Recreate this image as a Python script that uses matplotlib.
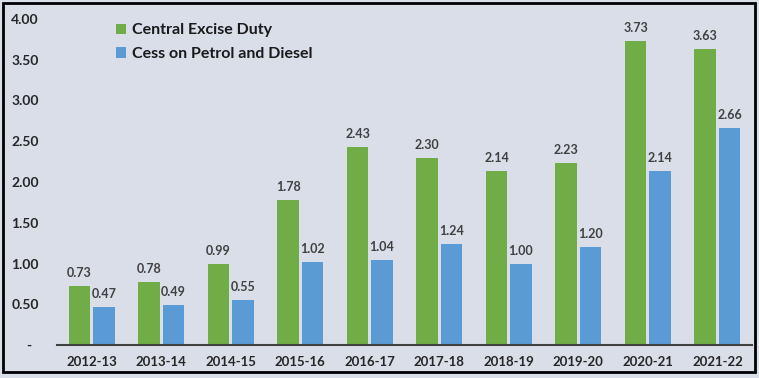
import matplotlib
matplotlib.use("Agg")
import matplotlib.pyplot as plt
import numpy as np
from matplotlib.patches import Rectangle

years = ["2012-13", "2013-14", "2014-15", "2015-16", "2016-17",
         "2017-18", "2018-19", "2019-20", "2020-21", "2021-22"]
central_excise = [0.73, 0.78, 0.99, 1.78, 2.43, 2.30, 2.14, 2.23, 3.73, 3.63]
cess = [0.47, 0.49, 0.55, 1.02, 1.04, 1.24, 1.00, 1.20, 2.14, 2.66]
yticks = [0, 0.5, 1.0, 1.5, 2.0, 2.5, 3.0, 3.5, 4.0]
ytick_labels = ["-  ", "0.50", "1.00", "1.50", "2.00", "2.50", "3.00", "3.50", "4.00"]

plt.rcParams['font.family'] = ['Lato', 'DejaVu Sans']

bg = "#d9dee8"
fig = plt.figure(figsize=(7.59, 3.78), dpi=100, facecolor=bg)
fig.patches.append(Rectangle((0.004, 0.016), 0.991, 0.976, transform=fig.transFigure,
                             fill=False, edgecolor="black", linewidth=2))
ax = fig.add_axes([0.075, 0.087, 0.916, 0.863], facecolor=bg)

x = np.arange(len(years))
w = 0.31
off = 0.175
green = "#70ad47"
blue = "#5b9bd5"
b1 = ax.bar(x - off, central_excise, w, color=green, label="Central Excise Duty")
b2 = ax.bar(x + off, cess, w, color=blue, label="Cess on Petrol and Diesel")

for bars, vals in ((b1, central_excise), (b2, cess)):
    for r, v in zip(bars, vals):
        ax.annotate(f"{v:.2f}", (r.get_x() + r.get_width() / 2, v),
                    xytext=(0, 5), textcoords="offset points",
                    ha="center", va="bottom", fontsize=9, fontweight="bold",
                    color="#404040")

ax.set_xlim(-0.5, len(years) - 0.5)
ax.set_ylim(0, 4.0)
ax.set_yticks(yticks)
ax.set_yticklabels(ytick_labels, fontsize=10, fontweight="bold", color="#262626")
ax.set_xticks(x)
ax.set_xticklabels(years, fontsize=9.5, fontweight="bold", color="#262626")
ax.tick_params(axis="both", length=0)
ax.tick_params(axis="y", pad=13)
ax.tick_params(axis="x", pad=8)
for s in ("top", "right", "left"):
    ax.spines[s].set_visible(False)
ax.spines["bottom"].set_color("#404040")
ax.spines["bottom"].set_linewidth(1.5)

leg = ax.legend(loc="upper left", bbox_to_anchor=(0.065, 1.03), frameon=False,
                prop={"size": 11.5, "weight": "bold"}, handlelength=0.6,
                handleheight=0.6, handletextpad=0.4, labelspacing=0.6)
for t in leg.get_texts():
    t.set_color("#1a1a1a")

fig.savefig("out.png", dpi=100, facecolor=bg)
